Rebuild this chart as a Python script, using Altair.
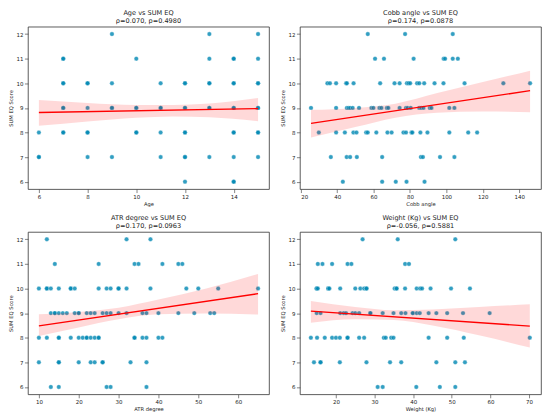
import altair as alt
import pandas as pd

FONT = "DejaVu Sans"
W, H = 242, 163

score_ticks = [6, 7, 8, 9, 10, 11, 12]

# ---------------- Panel 1: Age ----------------
age_x = [9, 13, 15,
         7, 7, 10, 13, 14, 14, 15,
         7, 7, 8, 8, 9, 11, 12, 12, 13, 13, 14, 14, 15, 15,
         7, 7, 8, 9, 9, 10, 10, 11, 11, 12, 12, 13, 13, 14, 14, 15, 15,
         6, 7, 7, 8, 8, 10, 10, 11, 12, 12, 14, 14, 15, 15,
         6, 6, 8, 9, 11, 12, 12, 13, 14, 15,
         12, 14, 14]
age_y = [12] * 3 + [11] * 7 + [10] * 14 + [9] * 17 + [8] * 14 + [7] * 10 + [6] * 3
age_line_x = [6, 15]
age_line_y = [8.81, 8.97]
age_band_x = [6, 8, 10, 11.5, 13, 15]
age_band_lo = [8.27, 8.45, 8.60, 8.65, 8.62, 8.46]
age_band_hi = [9.32, 9.20, 9.12, 9.12, 9.18, 9.40]

# ---------------- Panel 2: Cobb angle ----------------
cobb_12 = [56.8, 77.3, 103.5]
cobb_11 = [60.8, 65.7, 82, 98.5, 99.3, 103.5, 106.3]
cobb_10 = [34.6, 36, 39.4, 44.9, 45.3, 49, 63.6, 71.5, 74.3, 78.3, 79.2, 80.1,
           83.9, 85.1, 87.8, 93.5, 98.4, 110, 131.3, 146]
cobb_9 = [25.6, 39.4, 45.3, 46.2, 47.1, 48.5, 52, 58.8, 59.9, 63.2, 64.3, 67.3,
          68.1, 74.3, 77.8, 78.7, 80.4, 85.1, 86.2, 87.4, 90.9, 91.8, 101.6, 104.4]
cobb_8 = [29.9, 39.4, 44.2, 48.9, 50.6, 55.9, 56.8, 61.5, 67.6, 69.9, 76.4, 77.8,
          80.8, 81.3, 85.7, 89.6, 101.6, 112, 116.9]
cobb_7 = [36.5, 45.2, 47.1, 50.8, 64.7, 86, 87.1, 96.5, 104.4]
cobb_6 = [43.1, 64.7, 72.2, 78.1, 88]
cobb_line_x = [25.6, 146]
cobb_line_y = [8.37, 9.70]
cobb_band_x = [25.6, 50, 72, 95, 120, 146]
cobb_band_lo = [7.80, 8.22, 8.60, 8.80, 8.85, 8.82]
cobb_band_hi = [8.92, 9.00, 9.17, 9.60, 10.05, 10.51]

# ---------------- Panel 3: ATR degree ----------------
atr_12 = [12, 32, 38]
atr_11 = [14, 25, 34, 35, 41, 45, 46]
atr_10 = [10, 12, 12, 13, 15, 18, 18, 19, 25, 27, 28, 30, 30, 32, 38, 47, 50, 55, 65]
atr_9 = [13, 14, 14, 15, 16, 17, 19, 20, 20, 22, 23, 24, 26, 27, 28, 30, 32, 36,
         37, 40, 45, 49, 53, 54]
atr_8 = [10, 12, 15, 15, 18, 20, 21, 22, 22, 23, 24, 25, 25, 34, 34, 36, 37, 40, 41]
atr_7 = [10, 15, 15, 20, 23, 24, 26, 26, 33, 37]
atr_6 = [13, 15, 27, 28, 37]
atr_line_x = [10, 65]
atr_line_y = [8.48, 9.79]
atr_band_x = [10, 20, 30, 40, 52, 65]
atr_band_lo = [8.07, 8.42, 8.75, 8.95, 8.98, 8.94]
atr_band_hi = [8.95, 9.05, 9.22, 9.55, 10.0, 10.59]

# ---------------- Panel 4: Weight (Kg) ----------------
wt_12 = [26.9, 36, 50.9]
wt_11 = [15.3, 16.5, 19, 23, 24, 37.9, 38.9]
wt_10 = [15, 15, 15.3, 18, 18, 18.3, 21.1, 25, 26.3, 27.3, 27.9, 27.9, 35.2, 35.7,
         35.7, 37.9, 40.9, 41.8, 42.3, 44.5, 49.8, 54.7]
wt_9 = [15, 16, 21.1, 22, 22.6, 24.3, 25, 26, 28.9, 28.9, 32.1, 34.9, 36.9, 38,
        39.9, 39.9, 40.9, 41.7, 44, 46, 48.8, 52.9, 59.8]
wt_8 = [13.5, 15.1, 17.1, 19, 20, 21, 23, 23, 26, 27.3, 32.4, 32.9, 34.3, 34.9,
        44, 48.8, 53.1, 70.2]
wt_7 = [14.3, 16, 16, 21, 27.9, 34, 36.9, 46, 50.9, 53.4]
wt_6 = [30.8, 32.1, 40.8, 46.9, 50.9]
wt_line_x = [13.5, 70.2]
wt_line_y = [9.08, 8.47]
wt_band_x = [13.5, 25, 35, 45, 57, 70.2]
wt_band_lo = [8.61, 8.75, 8.72, 8.50, 8.10, 7.60]
wt_band_hi = [9.49, 9.25, 9.12, 9.15, 9.25, 9.36]


def rows(r12, r11, r10, r9, r8, r7, r6):
    xs, ys = [], []
    for val, lst in zip([12, 11, 10, 9, 8, 7, 6], [r12, r11, r10, r9, r8, r7, r6]):
        xs += lst
        ys += [val] * len(lst)
    return xs, ys


def panel(xs, ys, lx, ly, bx, blo, bhi, domain, ticks, xtitle, title):
    pts = pd.DataFrame({"x": xs, "y": ys})
    ldf = pd.DataFrame({"x": lx, "y": ly})
    bdf = pd.DataFrame({"x": bx, "lo": blo, "hi": bhi})
    xs_ = alt.Scale(domain=domain, nice=False, zero=False)
    ys_ = alt.Scale(domain=[5.7, 12.3], nice=False, zero=False)
    xax = alt.Axis(values=ticks, title=xtitle)
    yax = alt.Axis(values=score_ticks, title="SUM EQ Score")
    points = alt.Chart(pts).mark_circle(
        size=20, color="#0088b4", opacity=0.8, stroke="white", strokeWidth=0.35
    ).encode(x=alt.X("x:Q", scale=xs_, axis=xax), y=alt.Y("y:Q", scale=ys_, axis=yax))
    band = alt.Chart(bdf).mark_area(
        color="#ff0000", opacity=0.15, interpolate="monotone"
    ).encode(x=alt.X("x:Q", scale=xs_, axis=xax),
             y=alt.Y("lo:Q", scale=ys_, axis=yax), y2="hi:Q")
    line = alt.Chart(ldf).mark_line(color="#ff0000", strokeWidth=1.4).encode(
        x=alt.X("x:Q", scale=xs_, axis=xax), y=alt.Y("y:Q", scale=ys_, axis=yax))
    return alt.layer(points, band, line).properties(
        width=W, height=H, title=alt.Title(text=title))


p1 = panel(age_x, age_y, age_line_x, age_line_y, age_band_x, age_band_lo, age_band_hi,
           [5.55, 15.45], [6, 8, 10, 12, 14], "Age",
           ["Age vs SUM EQ", "ρ=0.070, p=0.4980"])
cx, cy = rows(cobb_12, cobb_11, cobb_10, cobb_9, cobb_8, cobb_7, cobb_6)
p2 = panel(cx, cy, cobb_line_x, cobb_line_y, cobb_band_x, cobb_band_lo, cobb_band_hi,
           [19.5, 152], [20, 40, 60, 80, 100, 120, 140], "Cobb angle",
           ["Cobb angle vs SUM EQ", "ρ=0.174, p=0.0878"])
ax_, ay_ = rows(atr_12, atr_11, atr_10, atr_9, atr_8, atr_7, atr_6)
p3 = panel(ax_, ay_, atr_line_x, atr_line_y, atr_band_x, atr_band_lo, atr_band_hi,
           [7.25, 67.75], [10, 20, 30, 40, 50, 60], "ATR degree",
           ["ATR degree vs SUM EQ", "ρ=0.170, p=0.0963"])
wx, wy = rows(wt_12, wt_11, wt_10, wt_9, wt_8, wt_7, wt_6)
p4 = panel(wx, wy, wt_line_x, wt_line_y, wt_band_x, wt_band_lo, wt_band_hi,
           [10.66, 73.1], [20, 30, 40, 50, 60, 70], "Weight (Kg)",
           ["Weight (Kg) vs SUM EQ", "ρ=-0.056, p=0.5881"])

chart = alt.vconcat(
    alt.hconcat(p1, p2, spacing=10),
    alt.hconcat(p3, p4, spacing=10),
    spacing=6,
).properties(padding=0).configure(
    font=FONT
).configure_view(
    stroke="#333333", strokeWidth=0.8
).configure_axis(
    domain=False, grid=False, ticks=True, tickColor="#333333", tickWidth=0.6,
    tickSize=3.5, labelFont=FONT, labelFontSize=5.5, labelColor="#222222",
    labelPadding=1.5, titleFont=FONT, titleFontSize=5.2, titleFontWeight="normal",
    titleColor="#222222", titlePadding=2,
).configure_title(
    font=FONT, fontSize=6.6, fontWeight="normal", color="#222222",
    lineHeight=8.4, offset=2, anchor="middle", frame="group",
)

chart.save("out.html", embed_options={"renderer": "svg", "actions": False})
